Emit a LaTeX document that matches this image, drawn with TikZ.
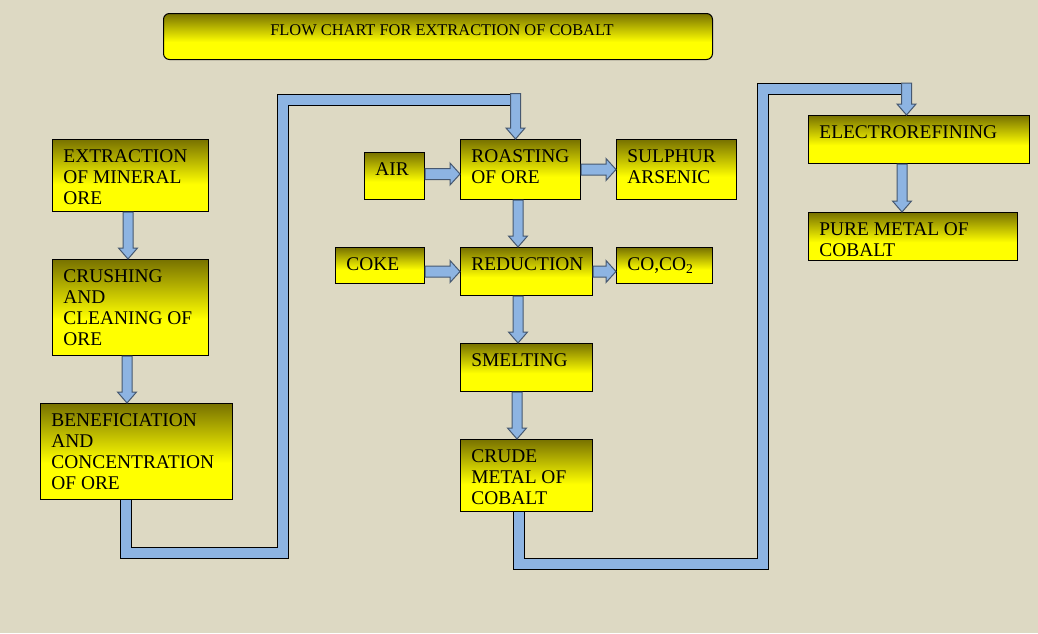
\documentclass[tikz,border=0pt]{standalone}
\usepackage{fontspec}
\setmainfont{Liberation Serif}
\usetikzlibrary{calc}
\definecolor{bgtan}{RGB}{221,217,195}
\definecolor{pipeblue}{RGB}{141,180,226}
\definecolor{arrowline}{RGB}{70,88,112}
\definecolor{olivetop}{RGB}{120,114,0}
\definecolor{yelbottom}{RGB}{255,255,0}
\pgfdeclareverticalshading{stagefill}{100bp}{color(0bp)=(yelbottom); color(25bp)=(yelbottom); color(44bp)=(yelbottom); color(75bp)=(olivetop); color(100bp)=(olivetop)}
\begin{document}
\begin{tikzpicture}[x=0.5pt,y=-0.5pt,
  stage/.style={draw=black, line width=0.5pt, shading=stagefill, anchor=north west, inner sep=0pt},
  stagetext/.style={anchor=north west, align=left, inner xsep=5.5pt, inner ysep=5pt, font=\fontsize{9.7}{10.5}\selectfont},
  pipe/.style={draw=black, line width=0.5pt, double=pipeblue, double distance=5pt},
  blockarrow/.style={draw=arrowline, fill=pipeblue, line width=0.5pt},
  downarrow/.style={to path={let \p1=(\tikztostart), \p2=(\tikztotarget) in
    (\x1-2.5pt,\y1) -- (\x1-2.5pt,\y2+5.5pt) -- (\x1-4.75pt,\y2+5.5pt) -- (\x1,\y2)
    -- (\x1+4.75pt,\y2+5.5pt) -- (\x1+2.5pt,\y2+5.5pt) -- (\x1+2.5pt,\y1) -- cycle}},
  rightarrow/.style={to path={let \p1=(\tikztostart), \p2=(\tikztotarget) in
    (\x1,\y1+2.75pt) -- (\x2-5pt,\y1+2.75pt) -- (\x2-5pt,\y1+5.5pt) -- (\x2,\y1)
    -- (\x2-5pt,\y1-5.5pt) -- (\x2-5pt,\y1-2.75pt) -- (\x1,\y1-2.75pt) -- cycle}}]
\useasboundingbox (0,0) rectangle (1038,633);
\fill[bgtan] (0,0) rectangle (1038,633);

% title
\node[stage, rounded corners=3pt, minimum width=274.5pt, minimum height=23pt,
  label={[anchor=north, inner ysep=5.5pt, xshift=2pt, font=\fontsize{8.2}{9}\selectfont]north:FLOW CHART FOR EXTRACTION OF COBALT}] (title) at (163,13) {};

% left column
\node[stage, minimum width=78pt, minimum height=36pt, label={[stagetext]north west:EXTRACTION\\OF MINERAL\\ORE}] (extract) at (52,139) {};
\node[stage, minimum width=78pt, minimum height=48pt, label={[stagetext]north west:CRUSHING\\AND\\CLEANING OF\\ORE}] (crush) at (52,259) {};
\node[stage, minimum width=96pt, minimum height=48pt, label={[stagetext]north west:BENEFICIATION\\AND\\CONCENTRATION\\OF ORE}] (benef) at (40,403) {};

% middle column
\node[stage, minimum width=30pt, minimum height=23.5pt, label={[stagetext]north west:AIR}] (air) at (364,152) {};
\node[stage, minimum width=60pt, minimum height=30pt, label={[stagetext]north west:ROASTING\\OF ORE}] (roast) at (460,139) {};
\node[stage, minimum width=60pt, minimum height=30pt, label={[stagetext]north west:SULPHUR\\ARSENIC}] (sulph) at (616,139) {};
\node[stage, minimum width=44.5pt, minimum height=18pt, label={[stagetext]north west:COKE}] (coke) at (335,247) {};
\node[stage, minimum width=66pt, minimum height=24pt, label={[stagetext]north west:REDUCTION}] (red) at (460,247) {};
\node[stage, minimum width=48pt, minimum height=18pt, label={[stagetext]north west:CO,CO\textsubscript{2}}] (co) at (616,247) {};
\node[stage, minimum width=66pt, minimum height=24pt, label={[stagetext]north west:SMELTING}] (smelt) at (460,343) {};
\node[stage, minimum width=66pt, minimum height=36pt, label={[stagetext]north west:CRUDE\\METAL OF\\COBALT}] (crude) at (460,439) {};

% right column
\node[stage, minimum width=110.5pt, minimum height=24pt, label={[stagetext]north west:ELECTROREFINING}] (elec) at (808,115) {};
\node[stage, minimum width=104.5pt, minimum height=24pt, label={[stagetext]north west:PURE METAL OF\\COBALT}] (pure) at (808,212) {};

% pipes
\coordinate (pipeAbend) at (283,552.5);
\coordinate (pipeAtop) at (515.5,99.5);
\coordinate (pipeBbend) at (762.5,563.5);
\coordinate (pipeBtop) at (906.5,89);
\draw[pipe] (125.5,0 |- benef.south) |- (pipeAbend) |- (pipeAtop);
\draw[pipe] (518.5,0 |- crude.south) |- (pipeBbend) |- (pipeBtop);
\draw[blockarrow] ([yshift=3pt]pipeAtop) to[downarrow] (pipeAtop |- roast.north);
\draw[blockarrow] ([yshift=3pt]pipeBtop) to[downarrow] (pipeBtop |- elec.north);

% block arrows
\draw[blockarrow] (128,0 |- extract.south) to[downarrow] (128,0 |- crush.north);
\draw[blockarrow] (127,0 |- crush.south) to[downarrow] (127,0 |- benef.north);
\draw[blockarrow] (518,0 |- roast.south) to[downarrow] (518,0 |- red.north);
\draw[blockarrow] (518,0 |- red.south) to[downarrow] (518,0 |- smelt.north);
\draw[blockarrow] (517,0 |- smelt.south) to[downarrow] (517,0 |- crude.north);
\draw[blockarrow] (902,0 |- elec.south) to[downarrow] (902,0 |- pure.north);
\draw[blockarrow] ([yshift=1pt]air.east) to[rightarrow] ([yshift=1pt]air.east -| roast.west);
\draw[blockarrow] (roast.east) to[rightarrow] (sulph.west);
\draw[blockarrow] (coke.east |- red.west) to[rightarrow] (red.west);
\draw[blockarrow] (red.east) to[rightarrow] (red.east -| co.west);
\end{tikzpicture}
\end{document}
